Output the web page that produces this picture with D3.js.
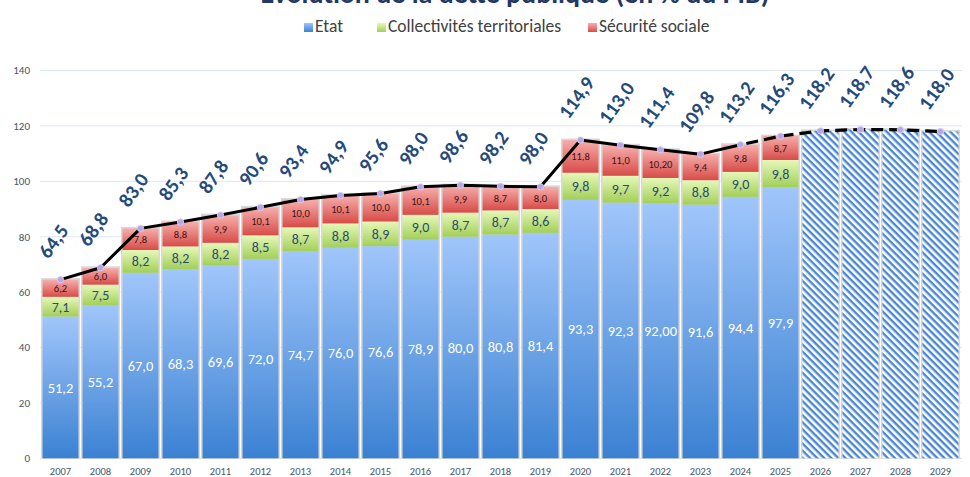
<!DOCTYPE html>
<html>
<head>
<meta charset="utf-8">
<script src="https://cdn.jsdelivr.net/npm/d3@7"></script>
<style>
  body { margin: 0; background: #fff; }
  svg { display: block; font-family: Carlito, Calibri, Lato, sans-serif; }
</style>
</head>
<body>
<svg id="chart"></svg>
<script>
// years with detail (stacked) and forecast years (hatched)
const years = ["2007","2008","2009","2010","2011","2012","2013","2014","2015","2016","2017","2018","2019","2020","2021","2022","2023","2024","2025","2026","2027","2028","2029"];
const detailYears = years.slice(0, 19);

const etat = [51.2, 55.2, 67.0, 68.3, 69.6, 72.0, 74.7, 76.0, 76.6, 78.9, 80.0, 80.8, 81.4, 93.3, 92.3, 92.00, 91.6, 94.4, 97.9];
const collectivites = [7.1, 7.5, 8.2, 8.2, 8.2, 8.5, 8.7, 8.8, 8.9, 9.0, 8.7, 8.7, 8.6, 9.8, 9.7, 9.2, 8.8, 9.0, 9.8];
const secu = [6.2, 6.0, 7.8, 8.8, 9.9, 10.1, 10.0, 10.1, 10.0, 10.1, 9.9, 8.7, 8.0, 11.8, 11.0, 10.20, 9.4, 9.8, 8.7];
const totals = [64.5, 68.8, 83.0, 85.3, 87.8, 90.6, 93.4, 94.9, 95.6, 98.0, 98.6, 98.2, 98.0, 114.9, 113.0, 111.4, 109.8, 113.2, 116.3, 118.2, 118.7, 118.6, 118.0];
const yTicks = [0, 20, 40, 60, 80, 100, 120, 140];
const seriesNames = ["Etat", "Collectivités territoriales", "Sécurité sociale"];
const twoDecimalYears = ["2022"]; // labels printed as 92,00 / 10,20
const lastSolidYear = "2024";

const width = 970, height = 477;
const svg = d3.select('#chart').attr('width', width).attr('height', height);

const x = d3.scaleBand().domain(years).range([40.5, 960.5]).paddingInner(0.1).paddingOuter(0.05);
const y = d3.scaleLinear().domain([0, 140]).range([458.3, 70.5]);

const frNum = (v, p) => d3.format(p || '.1f')(v).replace('.', ',');

// gradients + hatch
const defs = svg.append('defs');
const grads = [
  { id: 'gEtat', top: '#a0c6fb', bottom: '#3b81d2' },
  { id: 'gColl', top: '#e6f8b8', bottom: '#a2cf58' },
  { id: 'gSecu', top: '#f7aeac', bottom: '#d84c47' }
];
grads.forEach(g => {
  const lg = defs.append('linearGradient').attr('id', g.id)
    .attr('x1', 0).attr('y1', 0).attr('x2', 0).attr('y2', 1);
  lg.append('stop').attr('offset', '0%').attr('stop-color', g.top);
  lg.append('stop').attr('offset', '100%').attr('stop-color', g.bottom);
});
const hatch = defs.append('pattern').attr('id', 'hatch')
  .attr('patternUnits', 'userSpaceOnUse').attr('width', 5).attr('height', 5)
  .attr('patternTransform', 'rotate(45)');
hatch.append('rect').attr('width', 5).attr('height', 5).attr('fill', '#fff');
hatch.append('rect').attr('width', 5).attr('height', 2.4).attr('fill', '#4a88d4');

// title (cut off at the top, as in the original)
svg.append('text')
  .attr('x', 515).attr('y', 3)
  .attr('text-anchor', 'middle')
  .attr('fill', '#1f3864')
  .style('font-size', '28px').style('font-weight', 'bold')
  .text('Evolution de la dette publique (en % du PIB)');

// legend
const legendItems = [
  { name: seriesNames[0], fill: 'url(#gEtat)', x: 304 },
  { name: seriesNames[1], fill: 'url(#gColl)', x: 377 },
  { name: seriesNames[2], fill: 'url(#gSecu)', x: 588 }
];
const legend = svg.append('g');
legendItems.forEach(d => {
  legend.append('rect').attr('x', d.x).attr('y', 23).attr('width', 9).attr('height', 9).attr('fill', d.fill);
  legend.append('text').attr('x', d.x + 11).attr('y', 32)
    .attr('fill', '#404040').style('font-size', '17.5px').text(d.name);
});

// grid
svg.append('g').selectAll('line').data(yTicks).enter().append('line')
  .attr('x1', 40).attr('x2', 962)
  .attr('y1', d => y(d)).attr('y2', d => y(d))
  .attr('stroke', d => d === 0 ? '#d9d9d9' : '#dde7f4').attr('stroke-width', 1);

// y axis labels
svg.append('g').selectAll('text').data(yTicks).enter().append('text')
  .attr('x', 30).attr('y', d => y(d)).attr('dy', '0.35em')
  .attr('text-anchor', 'end').attr('fill', '#44546a')
  .style('font-size', '11px').text(d => d);

// x axis labels
svg.append('g').selectAll('text').data(years).enter().append('text')
  .attr('x', d => x(d) + x.bandwidth() / 2).attr('y', 475)
  .attr('text-anchor', 'middle').attr('fill', '#44546a')
  .style('font-size', '10.5px').text(d => d);

// stacked bars
const rows = detailYears.map((yr, i) => ({ year: yr, etat: etat[i], coll: collectivites[i], secu: secu[i] }));
const stack = d3.stack().keys(['etat', 'coll', 'secu'])(rows);
const fills = { etat: 'url(#gEtat)', coll: 'url(#gColl)', secu: 'url(#gSecu)' };

// bar frames (light grey outline)
svg.append('g').selectAll('rect').data(years).enter().append('rect')
  .attr('x', d => x(d) - 1.5).attr('width', x.bandwidth() + 3)
  .attr('y', (d, i) => y(totals[i]) - 1.5)
  .attr('height', (d, i) => y(0) - y(totals[i]) + 1.5)
  .attr('fill', '#d9d9d9');

const layers = svg.append('g').selectAll('g').data(stack).enter().append('g')
  .attr('fill', d => fills[d.key]);
layers.selectAll('rect').data(d => d).enter().append('rect')
  .attr('x', d => x(d.data.year)).attr('width', x.bandwidth())
  .attr('y', d => y(d[1])).attr('height', d => y(d[0]) - y(d[1]));

// forecast bars (hatched)
const forecast = years.map((yr, i) => ({ year: yr, total: totals[i] })).slice(detailYears.length);
svg.append('g').selectAll('rect').data(forecast).enter().append('rect')
  .attr('x', d => x(d.year)).attr('width', x.bandwidth())
  .attr('y', d => y(d.total)).attr('height', d => y(0) - y(d.total))
  .attr('fill', 'url(#hatch)');

// segment labels
const labelStyle = {
  etat: { color: '#ffffff', size: '14.5px' },
  coll: { color: '#2c4a72', size: '14px' },
  secu: { color: '#3a1414', size: '10.5px' }
};
layers.each(function(layer) {
  const st = labelStyle[layer.key];
  d3.select(this).selectAll('text').data(layer).enter().append('text')
    .attr('x', d => x(d.data.year) + x.bandwidth() / 2)
    .attr('y', d => (y(d[0]) + y(d[1])) / 2).attr('dy', '0.36em')
    .attr('text-anchor', 'middle')
    .attr('fill', st.color).style('font-size', st.size)
    .text(d => {
      const v = d.data[layer.key];
      return twoDecimalYears.includes(d.data.year) && layer.key !== 'coll' ? frNum(v, '.2f') : frNum(v);
    });
});

// total line
const pts = years.map((yr, i) => ({ year: yr, total: totals[i] }));
const line = d3.line().x(d => x(d.year) + x.bandwidth() / 2).y(d => y(d.total));
const cut = years.indexOf(lastSolidYear);
svg.append('path').datum(pts.slice(0, cut + 1)).attr('d', line)
  .attr('fill', 'none').attr('stroke', '#000').attr('stroke-width', 3).attr('stroke-linejoin', 'round');
svg.append('path').datum(pts.slice(cut)).attr('d', line)
  .attr('fill', 'none').attr('stroke', '#000').attr('stroke-width', 3.2)
  .attr('stroke-dasharray', '12,6').attr('stroke-dashoffset', -6);

svg.append('g').selectAll('circle').data(pts).enter().append('circle')
  .attr('cx', d => x(d.year) + x.bandwidth() / 2).attr('cy', d => y(d.total))
  .attr('r', 3.2).attr('fill', '#b7a6e4').attr('stroke', '#ddd4f5').attr('stroke-width', 0.8);

// total labels (rotated)
svg.append('g').selectAll('text').data(pts).enter().append('text')
  .attr('transform', d => `translate(${x(d.year) + x.bandwidth() / 2 - 12}, ${y(d.total) - 20}) rotate(-54)`)
  .attr('fill', '#244a7a')
  .style('font-size', '20px').style('font-weight', 'bold')
  .text(d => frNum(d.total));
</script>
</body>
</html>
